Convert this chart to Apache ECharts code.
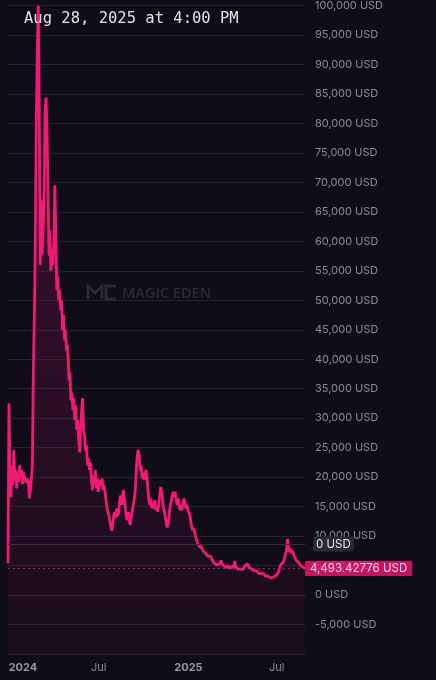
<!DOCTYPE html>
<html>
<head>
<meta charset="utf-8">
<script src="https://cdn.jsdelivr.net/npm/echarts@6/dist/echarts.min.js"></script>
<style>
html,body{margin:0;padding:0;background:#100c1a;}
#chart{width:436px;height:680px;}
</style>
</head>
<body>
<div id="chart"></div>
<script>
const titleText = 'Aug 28, 2025 at 4:00 PM';
const watermarkText = 'MAGIC EDEN';
const lastPrice = 4493.42776;
const crossValue = 8650;
const crossLabel = '0 USD';
const xStart = '2023-12-28';
const xEnd = '2025-08-28';
const xTickDates = ['2024-01-01', '2024-07-01', '2025-01-01', '2025-07-01'];
const xTickLabels = ['2024', 'Jul', '2025', 'Jul'];
const xTickBold = [true, false, true, false];

const dates = [
'2023-12-28','2023-12-30',
'2024-01-01','2024-01-03','2024-01-05','2024-01-07','2024-01-09','2024-01-11','2024-01-13','2024-01-15','2024-01-17','2024-01-19','2024-01-21','2024-01-23','2024-01-25','2024-01-27','2024-01-29','2024-01-31',
'2024-02-02','2024-02-04','2024-02-06','2024-02-08','2024-02-10','2024-02-12','2024-02-14','2024-02-16','2024-02-18','2024-02-20','2024-02-22','2024-02-24','2024-02-26','2024-02-28',
'2024-03-01','2024-03-03','2024-03-05','2024-03-07','2024-03-09','2024-03-11','2024-03-13','2024-03-15','2024-03-17','2024-03-19','2024-03-21','2024-03-23','2024-03-25','2024-03-27','2024-03-29','2024-03-31',
'2024-04-02','2024-04-04','2024-04-06','2024-04-08','2024-04-10','2024-04-12','2024-04-14','2024-04-16','2024-04-18','2024-04-20','2024-04-22','2024-04-24','2024-04-26','2024-04-28','2024-04-30',
'2024-05-01','2024-05-03','2024-05-05','2024-05-07','2024-05-09','2024-05-11','2024-05-13','2024-05-15','2024-05-17','2024-05-19','2024-05-21','2024-05-23','2024-05-25','2024-05-27','2024-05-29','2024-05-31',
'2024-06-02','2024-06-04','2024-06-06','2024-06-08','2024-06-10','2024-06-12','2024-06-14','2024-06-16','2024-06-18','2024-06-20','2024-06-22','2024-06-24','2024-06-26','2024-06-28','2024-06-30',
'2024-07-02','2024-07-04','2024-07-06','2024-07-08','2024-07-10','2024-07-12','2024-07-14','2024-07-16','2024-07-18','2024-07-20','2024-07-22','2024-07-24','2024-07-26','2024-07-28','2024-07-30',
'2024-08-01','2024-08-03','2024-08-05','2024-08-07','2024-08-09','2024-08-11','2024-08-13','2024-08-15','2024-08-17','2024-08-19','2024-08-21','2024-08-23','2024-08-25','2024-08-27','2024-08-29','2024-08-31',
'2024-09-02','2024-09-04','2024-09-06','2024-09-08','2024-09-10','2024-09-12','2024-09-14','2024-09-16','2024-09-18','2024-09-20','2024-09-22','2024-09-24','2024-09-26','2024-09-28','2024-09-30',
'2024-10-02','2024-10-04','2024-10-06','2024-10-08','2024-10-10','2024-10-12','2024-10-14','2024-10-16','2024-10-18','2024-10-20','2024-10-22','2024-10-24','2024-10-26','2024-10-28','2024-10-30',
'2024-11-01','2024-11-03','2024-11-05','2024-11-07','2024-11-09','2024-11-11','2024-11-13','2024-11-15','2024-11-17','2024-11-19','2024-11-21','2024-11-23','2024-11-25','2024-11-27','2024-11-29',
'2024-12-01','2024-12-03','2024-12-05','2024-12-07','2024-12-09','2024-12-11','2024-12-13','2024-12-15','2024-12-17','2024-12-19','2024-12-21','2024-12-23','2024-12-25','2024-12-27','2024-12-29','2024-12-31',
'2025-01-02','2025-01-04','2025-01-06','2025-01-08','2025-01-10','2025-01-12','2025-01-14','2025-01-16','2025-01-18','2025-01-20','2025-01-22','2025-01-24','2025-01-26','2025-01-28','2025-01-30',
'2025-02-01','2025-02-03','2025-02-05','2025-02-07','2025-02-09','2025-02-11','2025-02-13','2025-02-15','2025-02-17','2025-02-19','2025-02-21','2025-02-23','2025-02-25','2025-02-27',
'2025-03-01','2025-03-03','2025-03-05','2025-03-07','2025-03-09','2025-03-11','2025-03-13','2025-03-15','2025-03-17','2025-03-19','2025-03-21','2025-03-23','2025-03-25','2025-03-27','2025-03-29','2025-03-31',
'2025-04-02','2025-04-04','2025-04-06','2025-04-08','2025-04-10','2025-04-12','2025-04-14','2025-04-16','2025-04-18','2025-04-20','2025-04-22','2025-04-24','2025-04-26','2025-04-28','2025-04-30',
'2025-05-02','2025-05-04','2025-05-06','2025-05-08','2025-05-10','2025-05-12','2025-05-14','2025-05-16','2025-05-18','2025-05-20','2025-05-22','2025-05-24','2025-05-26','2025-05-28','2025-05-30',
'2025-06-01','2025-06-03','2025-06-05','2025-06-07','2025-06-09','2025-06-11','2025-06-13','2025-06-15','2025-06-17','2025-06-19','2025-06-21','2025-06-23','2025-06-25','2025-06-27','2025-06-29',
'2025-07-01','2025-07-03','2025-07-05','2025-07-07','2025-07-09','2025-07-11','2025-07-13','2025-07-15','2025-07-17','2025-07-19','2025-07-21','2025-07-23','2025-07-25','2025-07-27','2025-07-29','2025-07-31',
'2025-08-02','2025-08-04','2025-08-06','2025-08-08','2025-08-10','2025-08-12','2025-08-14','2025-08-16','2025-08-18','2025-08-20','2025-08-22','2025-08-24','2025-08-26','2025-08-28'
];

const prices = [
5400,32500,
21200,16600,22000,18600,24600,19500,21200,18100,20800,19200,22000,19800,21200,18800,20800,19800,
20000,19000,19800,19200,16400,17800,19800,22000,38000,47000,60000,80000,92000,100000,
83900,56000,67000,57600,61900,67000,82200,84400,78800,68600,57600,61900,55000,58500,56000,60200,
69500,61900,51700,54200,50000,51700,48300,50000,44900,47500,43200,44900,41500,42400,39000,
36400,37800,33000,34400,31400,33400,29700,32200,28000,29700,26300,24200,28000,31400,33400,28000,
27000,24500,25400,22000,23200,21200,22500,19800,17800,20300,18600,21200,18100,19800,17500,
17500,19500,18500,19800,17800,18600,17500,16100,14900,14200,13500,12500,11500,10900,12200,
13600,14100,13100,14700,13400,14100,16100,16900,15300,16900,17800,16100,14400,13100,12700,14100,
12400,11900,13600,14400,15300,16400,17800,21200,23700,24600,23700,21200,22000,19800,20800,
19500,20300,21200,19800,17800,16100,15300,16400,14700,15600,14700,16100,14400,15100,14100,
15300,16900,18300,17800,16100,14700,14100,13100,11900,11500,12400,14100,15300,16100,16900,
17500,16600,17500,16100,15300,16400,14900,14400,15300,14400,15800,16400,15600,14700,15300,14400,
14700,13600,12400,11500,11000,11400,10500,9800,9300,8800,8500,8100,8500,8000,7600,
7300,7600,7100,6800,6600,6400,6300,6600,6300,5900,5800,5400,5600,5100,
5100,5400,4900,5400,5900,5300,5600,4900,5100,4700,4700,5100,4600,4900,4600,4700,
5100,4600,5800,4900,4600,4400,4700,4200,4400,4200,4600,4400,4900,4700,5100,
5300,4900,4900,4600,4400,4600,4200,4100,4200,3900,4100,3700,3900,3600,3700,
3700,3400,3600,3200,3400,3100,3200,2900,3100,2900,3100,2900,3100,2900,3200,
3400,3600,4000,4600,5100,5400,4900,5600,5300,5900,7500,9500,8200,7300,8000,7100,
7500,7100,6600,6300,5900,5800,5600,5400,5100,4900,4600,4700,4600,4493.42776
];

function localTs(s) {
  const p = s.split('-').map(Number);
  return new Date(p[0], p[1] - 1, p[2]).getTime();
}
const tickTs = xTickDates.map(localTs);

const chart = echarts.init(document.getElementById('chart'), null, {renderer: 'canvas'});
const pink = '#ef1a72';
const wm = '#2b2837';
const option = {
  backgroundColor: '#100c1a',
  animation: false,
  title: {
    text: titleText,
    left: 24,
    top: 11,
    padding: 0,
    textStyle: {fontFamily: 'DejaVu Sans Mono', fontSize: 15.5, fontWeight: 'normal', color: '#e2e1e8'}
  },
  graphic: [
    {type: 'text', left: 122, top: 286, silent: true, z: 0,
     style: {text: watermarkText, fill: wm, font: '600 14.5px "Open Sans"'}},
    {type: 'polyline', silent: true, z: 0,
     shape: {points: [[88,299],[88,286],[95,293],[102,286],[102,299]]},
     style: {stroke: wm, lineWidth: 3, fill: null}},
    {type: 'polyline', silent: true, z: 0,
     shape: {points: [[116,286],[106,286],[106,299],[116,299]]},
     style: {stroke: wm, lineWidth: 3, fill: null}}
  ],
  grid: {left: 8, right: 131, top: 5, bottom: 26, containLabel: false},
  xAxis: {
    type: 'value',
    min: localTs(xStart),
    max: localTs(xEnd),
    splitLine: {show: false},
    axisTick: {show: false},
    axisLine: {show: true, lineStyle: {color: '#2c2939', width: 1}},
    axisLabel: {
      customValues: tickTs,
      margin: 8,
      color: '#8d8a98',
      fontSize: 11,
      fontFamily: 'Inter',
      formatter: function (v) {
        let idx = 0, best = Infinity;
        tickTs.forEach((t, i) => { const d = Math.abs(t - v); if (d < best) { best = d; idx = i; } });
        const txt = xTickLabels[idx];
        if (!xTickBold[idx]) return txt;
        return idx === 0 ? '{first|' + txt + '}' : '{yr|' + txt + '}';
      },
      rich: {
        yr: {fontWeight: 'bold', color: '#9a97a6', fontSize: 11, fontFamily: 'Inter'},
        first: {fontWeight: 'bold', color: '#9a97a6', fontSize: 11, fontFamily: 'Inter', padding: [0, 0, 0, 26]}
      }
    }
  },
  yAxis: {
    type: 'value',
    position: 'right',
    min: -10000,
    max: 100000,
    interval: 5000,
    axisLine: {show: false},
    axisTick: {show: false},
    splitLine: {show: true, lineStyle: {color: '#252231', width: 1}},
    axisLabel: {
      showMinLabel: false,
      margin: 10,
      color: '#8d8a98',
      fontSize: 11,
      fontFamily: 'Inter',
      formatter: v => v.toLocaleString('en-US') + ' USD'
    }
  },
  series: [{
    type: 'line',
    data: dates.map((d, i) => [localTs(d), prices[i]]),
    showSymbol: false,
    symbol: 'none',
    lineStyle: {color: pink, width: 2.8},
    itemStyle: {color: pink},
    areaStyle: {
      origin: 'start',
      color: new echarts.graphic.LinearGradient(0, 0, 0, 1, [
        {offset: 0, color: 'rgba(239,26,114,0.32)'},
        {offset: 1, color: 'rgba(239,26,114,0.06)'}
      ])
    },
    markLine: {
      silent: true,
      symbol: 'none',
      animation: false,
      data: [
        {
          yAxis: crossValue,
          lineStyle: {color: '#34313f', type: 'solid', width: 1},
          label: {show: true, position: 'end', distance: 8, formatter: crossLabel,
                  backgroundColor: '#2b2a34', color: '#e4e3ea', fontSize: 11.5, fontFamily: 'Inter',
                  padding: [2, 3, 1, 3], borderRadius: 2}
        },
        {
          yAxis: lastPrice,
          lineStyle: {color: pink, type: [2, 3], width: 1, opacity: 0.8},
          label: {show: true, position: 'end', distance: 0,
                  formatter: lastPrice.toLocaleString('en-US', {maximumFractionDigits: 5}) + ' USD',
                  backgroundColor: pink, color: '#ffffff', fontSize: 11.5, fontFamily: 'Inter',
                  padding: [2, 5, 1, 5], borderRadius: 1}
        }
      ]
    }
  }]
};
chart.setOption(option);
</script>
</body>
</html>
